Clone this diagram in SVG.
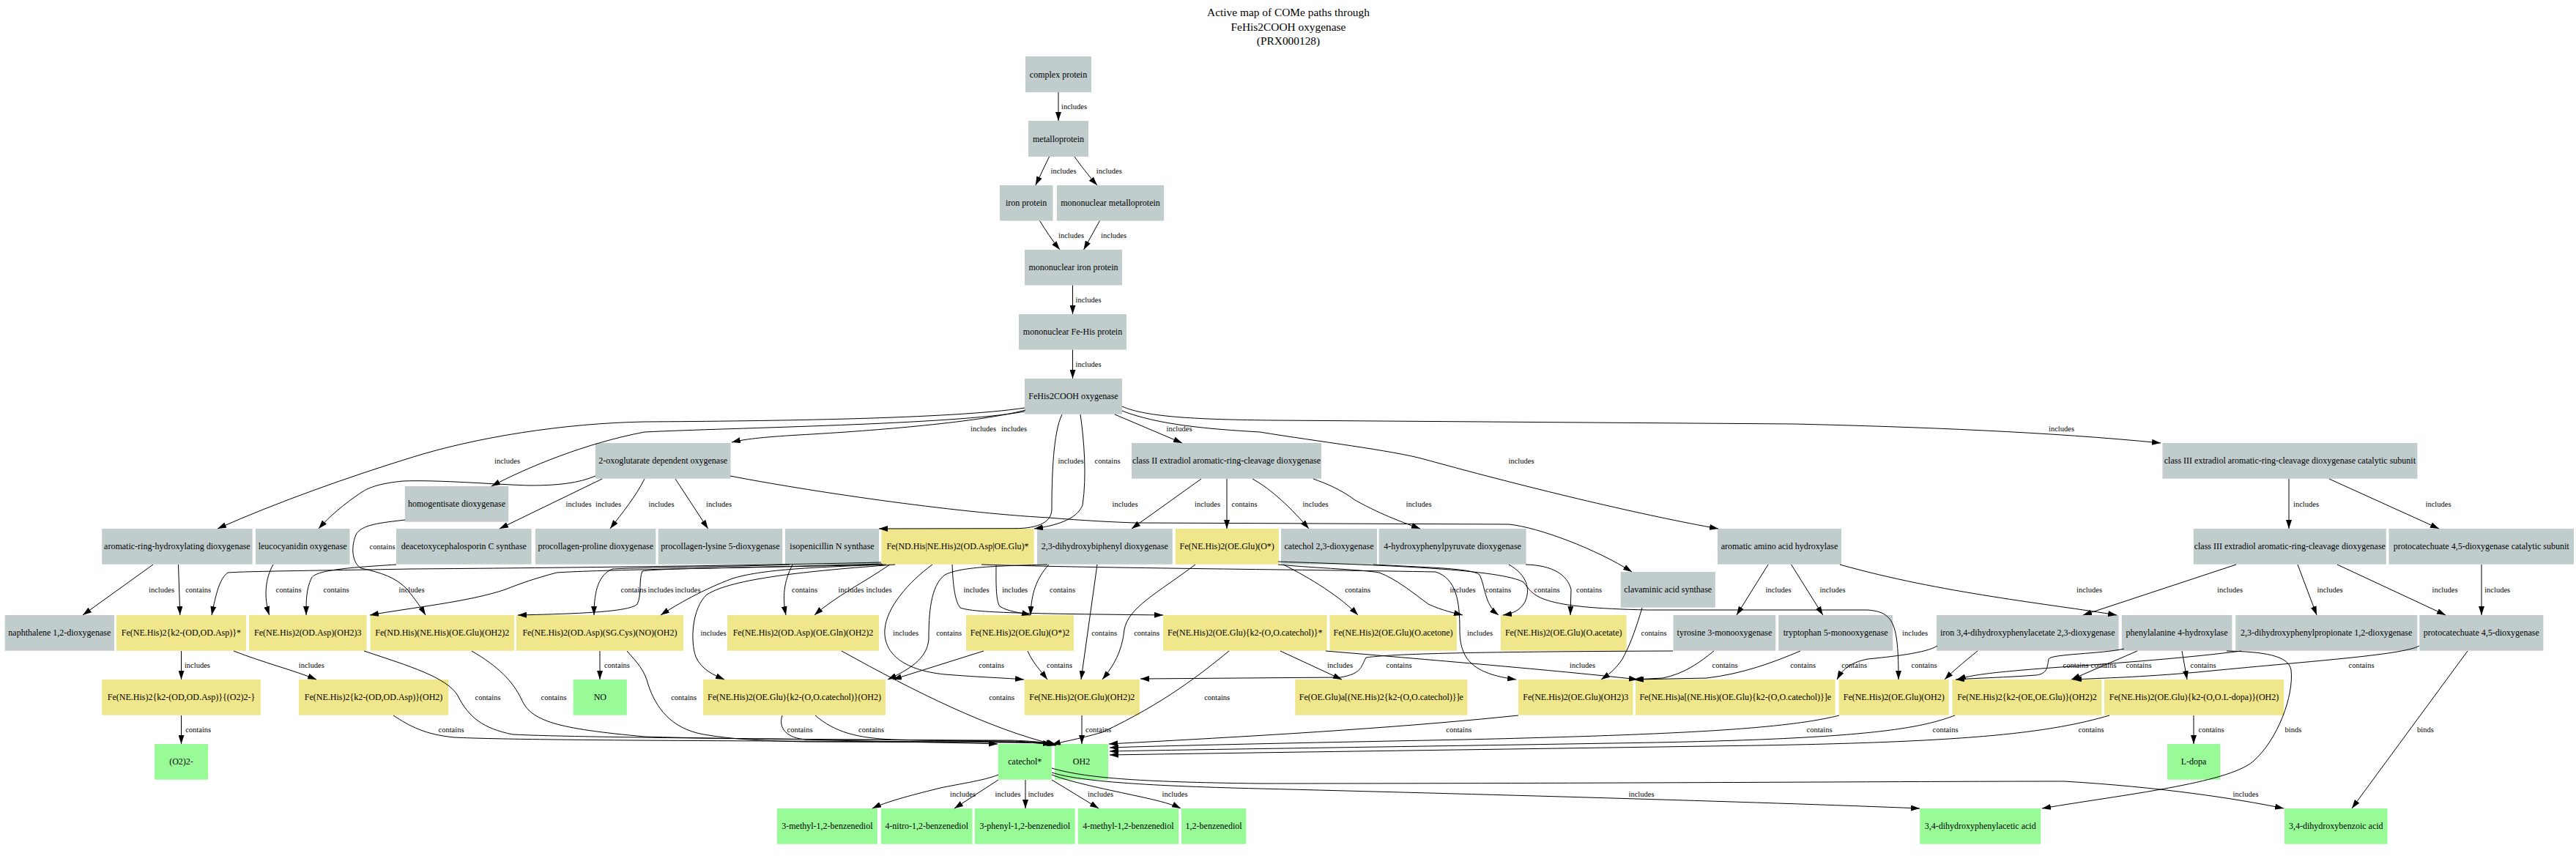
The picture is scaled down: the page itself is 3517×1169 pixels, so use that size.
<svg xmlns="http://www.w3.org/2000/svg" width="3517" height="1169" viewBox="0 0 3517 1169">
<style>
.n text{font-family:"Liberation Serif","Times New Roman",serif;font-size:12px;text-anchor:middle;fill:#000}
.g{fill:#c1cdcd}.y{fill:#f0e68c}.p{fill:#98fb98}
#edges path{fill:none;stroke:#000;stroke-width:1;marker-end:url(#a)}
#edges text{font-family:"Liberation Serif","Times New Roman",serif;font-size:10.5px;text-anchor:middle;fill:#000}
.t{font-family:"Liberation Serif","Times New Roman",serif;font-size:15.4px;text-anchor:middle;fill:#000}
</style>
<defs><marker id="a" viewBox="0 0 12 8" refX="12" refY="4" markerWidth="12" markerHeight="8" markerUnits="userSpaceOnUse" orient="auto"><path d="M0,0 L12,4 L0,8 z" fill="#000"/></marker></defs>
<rect width="3517" height="1169" fill="#fff"/>
<g id="title"><text class="t" x="1759" y="22">Active map of COMe paths through</text><text class="t" x="1759" y="42">FeHis2COOH oxygenase</text><text class="t" x="1759" y="61">(PRX000128)</text></g>
<g id="nodes">
<g id="n_complex" class="n"><rect class="g" x="1400" y="77" width="90" height="49"/><text x="1445" y="105.5">complex protein</text></g>
<g id="n_metallo" class="n"><rect class="g" x="1404" y="165" width="82" height="49"/><text x="1445" y="193.5">metalloprotein</text></g>
<g id="n_iron" class="n"><rect class="g" x="1365" y="253" width="72.5" height="48.5"/><text x="1401.2" y="281.3">iron protein</text></g>
<g id="n_mmp" class="n"><rect class="g" x="1443" y="253" width="146" height="48.5"/><text x="1516" y="281.3">mononuclear metalloprotein</text></g>
<g id="n_mip" class="n"><rect class="g" x="1399" y="341" width="133" height="48.6"/><text x="1465.5" y="369.3">mononuclear iron protein</text></g>
<g id="n_fehis" class="n"><rect class="g" x="1391" y="429" width="147" height="48.6"/><text x="1464.5" y="457.3">mononuclear Fe-His protein</text></g>
<g id="n_root" class="n"><rect class="g" x="1399" y="517" width="133" height="48.7"/><text x="1465.5" y="545.4">FeHis2COOH oxygenase</text></g>
<g id="n_2og" class="n"><rect class="g" x="813" y="605" width="184.5" height="48.7"/><text x="905.2" y="633.4">2-oxoglutarate dependent oxygenase</text></g>
<g id="n_c2" class="n"><rect class="g" x="1545" y="605" width="259" height="48.7"/><text x="1674.5" y="633.4">class II extradiol aromatic-ring-cleavage dioxygenase</text></g>
<g id="n_c3cat" class="n"><rect class="g" x="2952.4" y="605" width="348" height="48.7"/><text x="3126.4" y="633.4">class III extradiol aromatic-ring-cleavage dioxygenase catalytic subunit</text></g>
<g id="n_hgd" class="n"><rect class="g" x="552.8" y="664" width="141.4" height="48.7"/><text x="623.5" y="692.4">homogentisate dioxygenase</text></g>
<g id="n_arhd" class="n"><rect class="g" x="139.2" y="722" width="205.4" height="48.7"/><text x="241.9" y="750.4">aromatic-ring-hydroxylating dioxygenase</text></g>
<g id="n_leuco" class="n"><rect class="g" x="349" y="722" width="128.5" height="48.7"/><text x="413.2" y="750.4">leucocyanidin oxygenase</text></g>
<g id="n_dacs" class="n"><rect class="g" x="541" y="722" width="184.6" height="48.7"/><text x="633.3" y="750.4">deacetoxycephalosporin C synthase</text></g>
<g id="n_ppd" class="n"><rect class="g" x="731" y="722" width="164.4" height="48.7"/><text x="813.2" y="750.4">procollagen-proline dioxygenase</text></g>
<g id="n_pld" class="n"><rect class="g" x="898.7" y="722" width="169.5" height="48.7"/><text x="983.4" y="750.4">procollagen-lysine 5-dioxygenase</text></g>
<g id="n_ipns" class="n"><rect class="g" x="1072" y="722" width="128" height="48.7"/><text x="1136" y="750.4">isopenicillin N synthase</text></g>
<g id="n_G" class="n"><rect class="y" x="1203.4" y="722" width="208.2" height="48.7"/><text x="1307.5" y="750.4">Fe(ND.His|NE.His)2(OD.Asp|OE.Glu)*</text></g>
<g id="n_dhbd" class="n"><rect class="g" x="1416" y="722" width="184.7" height="48.7"/><text x="1508.3" y="750.4">2,3-dihydroxybiphenyl dioxygenase</text></g>
<g id="n_FeO" class="n"><rect class="y" x="1604.7" y="722" width="141.1" height="48.7"/><text x="1675.2" y="750.4">Fe(NE.His)2(OE.Glu)(O*)</text></g>
<g id="n_c23o" class="n"><rect class="g" x="1749" y="722" width="131" height="48.7"/><text x="1814.5" y="750.4">catechol 2,3-dioxygenase</text></g>
<g id="n_hppd" class="n"><rect class="g" x="1882.7" y="722" width="200.9" height="48.7"/><text x="1983.1" y="750.4">4-hydroxyphenylpyruvate dioxygenase</text></g>
<g id="n_aaah" class="n"><rect class="g" x="2345" y="722" width="169" height="48.7"/><text x="2429.5" y="750.4">aromatic amino acid hydroxylase</text></g>
<g id="n_c3" class="n"><rect class="g" x="2994.8" y="722" width="263" height="48.7"/><text x="3126.3" y="750.4">class III extradiol aromatic-ring-cleavage dioxygenase</text></g>
<g id="n_pcdcat" class="n"><rect class="g" x="3261.4" y="722" width="252.6" height="48.7"/><text x="3387.7" y="750.4">protocatechuate 4,5-dioxygenase catalytic subunit</text></g>
<g id="n_cas" class="n"><rect class="g" x="2212.7" y="781" width="129.1" height="48.7"/><text x="2277.2" y="809.4">clavaminic acid synthase</text></g>
<g id="n_ndo" class="n"><rect class="g" x="6.7" y="840" width="149.3" height="48.7"/><text x="81.3" y="868.4">naphthalene 1,2-dioxygenase</text></g>
<g id="n_k2OD" class="n"><rect class="y" x="158.8" y="840" width="177.3" height="48.7"/><text x="247.4" y="868.4">Fe(NE.His)2{k2-(OD,OD.Asp)}*</text></g>
<g id="n_aspOH3" class="n"><rect class="y" x="340" y="840" width="160.6" height="48.7"/><text x="420.3" y="868.4">Fe(NE.His)2(OD.Asp)(OH2)3</text></g>
<g id="n_hisGlu" class="n"><rect class="y" x="505.6" y="840" width="196.4" height="48.7"/><text x="603.8" y="868.4">Fe(ND.His)(NE.His)(OE.Glu)(OH2)2</text></g>
<g id="n_cysNO" class="n"><rect class="y" x="704.8" y="840" width="228.2" height="48.7"/><text x="818.9" y="868.4">Fe(NE.His)2(OD.Asp)(SG.Cys)(NO)(OH2)</text></g>
<g id="n_gln" class="n"><rect class="y" x="993" y="840" width="207" height="48.7"/><text x="1096.5" y="868.4">Fe(NE.His)2(OD.Asp)(OE.Gln)(OH2)2</text></g>
<g id="n_O2" class="n"><rect class="y" x="1319" y="840" width="147" height="48.7"/><text x="1392.5" y="868.4">Fe(NE.His)2(OE.Glu)(O*)2</text></g>
<g id="n_catS" class="n"><rect class="y" x="1588" y="840" width="223.6" height="48.7"/><text x="1699.8" y="868.4">Fe(NE.His)2(OE.Glu){k2-(O,O.catechol)}*</text></g>
<g id="n_acetone" class="n"><rect class="y" x="1815.4" y="840" width="173.4" height="48.7"/><text x="1902.1" y="868.4">Fe(NE.His)2(OE.Glu)(O.acetone)</text></g>
<g id="n_acetate" class="n"><rect class="y" x="2048.8" y="840" width="171.8" height="48.7"/><text x="2134.7" y="868.4">Fe(NE.His)2(OE.Glu)(O.acetate)</text></g>
<g id="n_th" class="n"><rect class="g" x="2284.5" y="840" width="139.8" height="48.7"/><text x="2354.4" y="868.4">tyrosine 3-monooxygenase</text></g>
<g id="n_tph" class="n"><rect class="g" x="2428.2" y="840" width="156" height="48.7"/><text x="2506.2" y="868.4">tryptophan 5-monooxygenase</text></g>
<g id="n_hpcd" class="n"><rect class="g" x="2644" y="840" width="248.6" height="48.7"/><text x="2768.3" y="868.4">iron 3,4-dihydroxyphenylacetate 2,3-dioxygenase</text></g>
<g id="n_pah" class="n"><rect class="g" x="2896.8" y="840" width="150.6" height="48.7"/><text x="2972.1" y="868.4">phenylalanine 4-hydroxylase</text></g>
<g id="n_mhpcd" class="n"><rect class="g" x="3052.2" y="840" width="248.1" height="48.7"/><text x="3176.2" y="868.4">2,3-dihydroxyphenylpropionate 1,2-dioxygenase</text></g>
<g id="n_pcd" class="n"><rect class="g" x="3303.3" y="840" width="169.1" height="48.7"/><text x="3387.8" y="868.4">protocatechuate 4,5-dioxygenase</text></g>
<g id="n_k2O2" class="n"><rect class="y" x="139.2" y="928" width="216.6" height="48.7"/><text x="247.5" y="956.4">Fe(NE.His)2{k2-(OD,OD.Asp)}{(O2)2-}</text></g>
<g id="n_k2OH" class="n"><rect class="y" x="408" y="928" width="204.2" height="48.7"/><text x="510.1" y="956.4">Fe(NE.His)2{k2-(OD,OD.Asp)}(OH2)</text></g>
<g id="n_NO" class="n"><rect class="p" x="782.8" y="928" width="73" height="48.7"/><text x="819.3" y="956.4">NO</text></g>
<g id="n_catOH" class="n"><rect class="y" x="960" y="928" width="249" height="48.7"/><text x="1084.5" y="956.4">Fe(NE.His)2(OE.Glu){k2-(O,O.catechol)}(OH2)</text></g>
<g id="n_OH2_2" class="n"><rect class="y" x="1398.7" y="928" width="157.1" height="48.7"/><text x="1477.2" y="956.4">Fe(NE.His)2(OE.Glu)(OH2)2</text></g>
<g id="n_ae" class="n"><rect class="y" x="1768.3" y="928" width="235.1" height="48.7"/><text x="1885.8" y="956.4">Fe(OE.Glu)a[(NE.His)2{k2-(O,O.catechol)}]e</text></g>
<g id="n_OH2_3" class="n"><rect class="y" x="2073" y="928" width="156.5" height="48.7"/><text x="2151.2" y="956.4">Fe(NE.His)2(OE.Glu)(OH2)3</text></g>
<g id="n_Hisa" class="n"><rect class="y" x="2233" y="928" width="272.6" height="48.7"/><text x="2369.3" y="956.4">Fe(NE.His)a[(NE.His)(OE.Glu){k2-(O,O.catechol)}]e</text></g>
<g id="n_OH2_1" class="n"><rect class="y" x="2510.7" y="928" width="150" height="48.7"/><text x="2585.7" y="956.4">Fe(NE.His)2(OE.Glu)(OH2)</text></g>
<g id="n_k2Glu" class="n"><rect class="y" x="2665.5" y="928" width="203.8" height="48.7"/><text x="2767.4" y="956.4">Fe(NE.His)2{k2-(OE,OE.Glu)}(OH2)2</text></g>
<g id="n_dopaC" class="n"><rect class="y" x="2873" y="928" width="245" height="48.7"/><text x="2995.5" y="956.4">Fe(NE.His)2(OE.Glu){k2-(O,O.L-dopa)}(OH2)</text></g>
<g id="n_O2m" class="n"><rect class="p" x="211" y="1016" width="73" height="48.7"/><text x="247.5" y="1044.4">(O2)2-</text></g>
<g id="n_cat" class="n"><rect class="p" x="1362.8" y="1016" width="73" height="48.7"/><text x="1399.3" y="1044.4">catechol*</text></g>
<g id="n_OH2" class="n"><rect class="p" x="1440" y="1016" width="73" height="48.7"/><text x="1476.5" y="1044.4">OH2</text></g>
<g id="n_dopa" class="n"><rect class="p" x="2959" y="1016" width="72.3" height="48.7"/><text x="2995.1" y="1044.4">L-dopa</text></g>
<g id="n_3m" class="n"><rect class="p" x="1061" y="1104" width="136.8" height="48.7"/><text x="1129.4" y="1132.4">3-methyl-1,2-benzenediol</text></g>
<g id="n_4n" class="n"><rect class="p" x="1202.9" y="1104" width="124.6" height="48.7"/><text x="1265.2" y="1132.4">4-nitro-1,2-benzenediol</text></g>
<g id="n_3p" class="n"><rect class="p" x="1330.8" y="1104" width="136.9" height="48.7"/><text x="1399.2" y="1132.4">3-phenyl-1,2-benzenediol</text></g>
<g id="n_4m" class="n"><rect class="p" x="1471.7" y="1104" width="137.5" height="48.7"/><text x="1540.4" y="1132.4">4-methyl-1,2-benzenediol</text></g>
<g id="n_12" class="n"><rect class="p" x="1613" y="1104" width="88.2" height="48.7"/><text x="1657.1" y="1132.4">1,2-benzenediol</text></g>
<g id="n_dopac" class="n"><rect class="p" x="2621.2" y="1104" width="165" height="48.7"/><text x="2703.7" y="1132.4">3,4-dihydroxyphenylacetic acid</text></g>
<g id="n_pca" class="n"><rect class="p" x="3119" y="1104" width="140.6" height="48.7"/><text x="3189.3" y="1132.4">3,4-dihydroxybenzoic acid</text></g>
</g>
<g id="edges">
<path d="M1445,126 L1445,165"/><text x="1466.5" y="149">includes</text>
<path d="M1432.5,214 L1413.8,253"/><text x="1452" y="236.5">includes</text>
<path d="M1467,214 C1475,225 1486,240 1498,253"/><text x="1514.3" y="236.5">includes</text>
<path d="M1419.5,301.5 C1428,315 1437,329 1447,341"/><text x="1462.5" y="324.5">includes</text>
<path d="M1501.4,301.5 L1479.6,341"/><text x="1520.6" y="324.5">includes</text>
<path d="M1464.5,389.6 L1464.5,429"/><text x="1486" y="413">includes</text>
<path d="M1464.5,477.6 L1464.5,517"/><text x="1486" y="501">includes</text>
<path d="M1400,560 C1340,576 1200,588 1090,594 C1040,597 1015,600 999,604"/><text x="1342.6" y="588.8">includes</text>
<path d="M1399,557 C1300,572 1050,575 880,576 C770,578 650,597 561,625 C480,650 380,685 297,722"/><text x="1384.6" y="588.8">includes</text>
<path d="M1399,562 C1300,580 1000,584 880,590 C800,605 720,638 671,664"/><text x="692.5" y="632.8">includes</text>
<path d="M1450,566 C1438,590 1436,650 1436,695 C1436,712 1420,721.7 1385,721.7 L1200,722"/><text x="1462" y="632.8">includes</text>
<path d="M1475,566 C1480,600 1484,650 1478,690 C1470,710 1440,718 1412,722"/><text x="1512" y="632.8">contains</text>
<path d="M1522,566 L1614,605"/><text x="1610" y="588.8">includes</text>
<path d="M1532,561 C1580,580 1650,586 1720,590 C1800,603 1900,615 1944,627 C2100,670 2250,705 2346,722"/><text x="2077" y="632.8">includes</text>
<path d="M1532,555 C1565,570 1640,573 1740,574 L2450,579 C2620,583 2800,590 2950,605"/><text x="2814.5" y="588.8">includes</text>
<path d="M813,650 C790,660 760,663 724,663 C680,662 600,655 550,657 C520,660 505,665 494,672 C470,688 450,705 435,722"/><text x="790" y="691.8">includes</text>
<path d="M822,654 L682,722"/><text x="830.5" y="691.8">includes</text>
<path d="M880,654 C868,678 850,700 833,722"/><text x="903" y="691.8">includes</text>
<path d="M922,654 L966.6,722"/><text x="981.5" y="691.8">includes</text>
<path d="M997,650 C1100,670 1300,700 1432,707 C1480,711 1520,713 1550,714 L2060,716 C2100,720 2180,750 2228,781"/><text x="1536" y="691.8">includes</text>
<path d="M1640,654 L1545,722"/><text x="1648.5" y="691.8">includes</text>
<path d="M1675,654 L1675,722"/><text x="1699" y="691.8">contains</text>
<path d="M1710,654 C1730,665 1755,685 1787,722"/><text x="1796" y="691.8">includes</text>
<path d="M1793,654 C1810,660 1830,668 1850,683 C1890,705 1920,715 1939,722"/><text x="1937" y="691.8">includes</text>
<path d="M3125,654 L3125,722"/><text x="3148.5" y="691.8">includes</text>
<path d="M3180,654 L3330,722"/><text x="3329" y="691.8">includes</text>
<path d="M553,710 C520,714 494,716 486,730 C478,750 482,770 493,776 C520,782 540,788 556,805 C568,820 575,830 581,840"/><text x="522" y="750.2">contains</text>
<path d="M209,771 L113,840"/><text x="220.5" y="809.2">includes</text>
<path d="M243.5,771 L245.8,840"/><text x="270.7" y="809.2">contains</text>
<path d="M373,771 C362,790 360,815 367.6,840"/><text x="394" y="809.2">contains</text>
<path d="M541,771 C480,775 430,778 425,790 C418,805 418,820 418,840"/><text x="459" y="809.2">contains</text>
<path d="M1204,770 C1000,776 820,778 760,782 C730,790 710,797 690,805 C640,822 560,830 505,840"/><text x="562" y="809.2">includes</text>
<path d="M1203,768 C1000,773 700,776 561,777 C450,779 340,780 311,782 C300,790 295,810 289,840"/><text x="1200" y="809.2">includes</text>
<path d="M1206,771 C1000,776 900,776 877,780 C872,790 876,815 870,825 C860,835 800,838 707,840"/><text x="902" y="809.2">includes</text>
<path d="M1210,771 C1100,775 1040,778 1000,790 C960,805 925,825 902,840"/><text x="939" y="809.2">includes</text>
<path d="M1215,771 C1180,795 1140,815 1112,840"/><text x="1162" y="809.2">includes</text>
<path d="M1078,771 C1000,774 870,775 836,777 C818,785 811,805 811,840"/><text x="865" y="809.2">contains</text>
<path d="M1082,771 C1070,795 1068,815 1073,840"/><text x="1098.5" y="809.2">contains</text>
<path d="M1300,771 C1301,795 1303,820 1311,830 C1330,837 1400,838 1588,840"/><text x="1333" y="809.2">includes</text>
<path d="M1360,771 C1360,790 1359,820 1365,828 C1375,835 1395,837 1407,840"/><text x="1385.7" y="809.2">includes</text>
<path d="M1432,771 C1415,790 1408,810 1407,840"/><text x="1450.5" y="809.2">contains</text>
<path d="M1752,771 C1790,790 1830,815 1854,840"/><text x="1853.7" y="809.2">contains</text>
<path d="M1745,771 C1800,776 1860,778 1883,782 C1905,790 1930,810 1950,825 C1970,834 1985,837 1997,840"/><text x="1997" y="809.2">includes</text>
<path d="M1875,771 C1950,775 2010,776 2020,785 C2028,800 2026,825 2046,840"/><text x="2045.5" y="809.2">contains</text>
<path d="M2060,771 C2085,785 2090,805 2082,822 C2075,834 2065,838 2052,840"/><text x="2112" y="809.2">contains</text>
<path d="M2083,771 C2120,772 2140,785 2145,805 L2144,840"/><text x="2169.5" y="809.2">contains</text>
<path d="M2414,771 L2371,840"/><text x="2428" y="809.2">includes</text>
<path d="M2445.6,771 L2488.8,840"/><text x="2502" y="809.2">includes</text>
<path d="M2512,771 C2650,810 2800,825 2890,840"/><text x="2852.5" y="809.2">includes</text>
<path d="M3053,771 L2844,840"/><text x="3044.5" y="809.2">includes</text>
<path d="M3137,771 L3163,840"/><text x="3181" y="809.2">includes</text>
<path d="M3191,771 L3339,840"/><text x="3338" y="809.2">includes</text>
<path d="M3388,771 L3388,840"/><text x="3409.7" y="809.2">includes</text>
<path d="M1222,771 C1100,780 1000,790 965,812 C945,830 942,875 950,897 C958,915 975,922 989,928"/><text x="974" y="867.8">includes</text>
<path d="M1273,771 C1240,795 1210,830 1208,860 C1206,890 1230,915 1290,921 C1340,925 1375,926 1398,928"/><text x="1236.5" y="867.8">includes</text>
<path d="M1430,771 C1350,773 1310,775 1290,785 C1270,800 1268,840 1268,873 C1266,900 1240,915 1212,928"/><text x="1295.7" y="867.8">contains</text>
<path d="M1498,771 L1476,928"/><text x="1507.7" y="867.8">contains</text>
<path d="M1632,771 C1580,810 1540,830 1535,860 C1532,890 1520,910 1505,928"/><text x="1565.7" y="867.8">contains</text>
<path d="M1340,771 C1500,776 1800,778 1960,781 C1988,790 1993,820 1993,860 C1993,900 2010,920 2070,928"/><text x="2020.5" y="867.8">includes</text>
<path d="M2242,830 C2233,860 2226,880 2215,900 C2205,915 2195,922 2186,928"/><text x="2258" y="867.8">contains</text>
<path d="M1745,767 C1900,772 2050,778 2080,795 C2095,815 2100,830 2250,833 L2550,833 C2585,836 2592,850 2592,928"/><text x="2614.6" y="867.8">includes</text>
<path d="M247.5,889 L247.5,928"/><text x="269.4" y="912.2">includes</text>
<path d="M319,889 C360,905 400,915 432,928"/><text x="425.3" y="912.2">includes</text>
<path d="M819,889 L819,928"/><text x="842.4" y="912.2">contains</text>
<path d="M1343,889 L1219,928"/><text x="1353.7" y="912.2">contains</text>
<path d="M1403,889 C1410,905 1420,915 1430,928"/><text x="1446.5" y="912.2">contains</text>
<path d="M1748,889 L1832,928"/><text x="1829.5" y="912.2">includes</text>
<path d="M2284,889 C2000,890 1900,893 1865,898 C1858,910 1860,920 1830,925 L1557,927"/><text x="1910" y="912.2">contains</text>
<path d="M1810,889 C2000,905 2150,918 2236,928"/><text x="2160.5" y="912.2">includes</text>
<path d="M2340,889 C2320,905 2300,920 2270,926 L2230,928"/><text x="2355" y="912.2">contains</text>
<path d="M2458,889 C2420,905 2380,920 2330,926 L2232,928"/><text x="2461.7" y="912.2">contains</text>
<path d="M2645,882 C2630,892 2580,897 2550,900 C2525,905 2515,915 2508,928"/><text x="2531.7" y="912.2">contains</text>
<path d="M2700,889 C2680,905 2665,918 2655,928"/><text x="2627" y="912.2">contains</text>
<path d="M2900,886 C2870,893 2800,893 2797,900 C2795,912 2795,920 2780,922 C2740,925 2700,926 2670,928"/><text x="2834" y="912.2">contains</text>
<path d="M2918,889 L2828,928"/><text x="2872" y="912.2">contains</text>
<path d="M3060,889 C2990,898 2900,905 2800,912 C2720,918 2690,922 2672,928"/><text x="2920" y="912.2">contains</text>
<path d="M2979,889 L2986,928"/><text x="3008" y="912.2">contains</text>
<path d="M3303,882 C3280,895 3150,903 3000,918 C2920,925 2870,926 2830,928"/><text x="3224" y="912.2">contains</text>
<path d="M497,889 C560,910 610,925 625,950 C640,980 660,995 700,1003 C800,1008 1200,1010 1380,1012 C1410,1013 1430,1014 1442,1017"/><text x="666" y="956.2">contains</text>
<path d="M644,889 C680,910 700,930 712,955 C725,985 760,995 880,1006 C1000,1010 1300,1011 1380,1011 C1410,1012 1430,1014 1442,1017"/><text x="756" y="956.2">contains</text>
<path d="M856,889 C870,905 880,915 885,935 C895,965 915,995 961,1003 C1000,1010 1050,1012 1100,1013 L1380,1014 C1410,1014 1430,1015 1442,1018"/><text x="933.7" y="956.2">contains</text>
<path d="M1149,889 C1250,945 1350,995 1440,1017"/><text x="1367.7" y="956.2">contains</text>
<path d="M1678,889 C1640,920 1590,960 1505,1000 C1470,1010 1450,1013 1436,1017"/><text x="1661.7" y="956.2">contains</text>
<path d="M247.5,977 L247.5,1016"/><text x="270.7" y="1000.2">contains</text>
<path d="M537,977 C560,992 580,1003 620,1007 C700,1011 1000,1012 1380,1013 C1410,1014 1430,1015 1441,1018"/><text x="616" y="1000.2">contains</text>
<path d="M1068,977 C1062,995 1075,1008 1100,1010 C1200,1013 1300,1014 1362,1016"/><text x="1092" y="1000.2">contains</text>
<path d="M1113,977 C1140,1000 1170,1008 1220,1010 C1300,1012 1400,1013 1436,1016"/><text x="1189.6" y="1000.2">contains</text>
<path d="M1477,977 L1477,1016"/><text x="1499.5" y="1000.2">contains</text>
<path d="M2073,977 C1900,995 1700,1006 1514,1016"/><text x="1991.8" y="1000.2">contains</text>
<path d="M2511,977 C2440,995 2300,1003 2000,1010 C1800,1014 1600,1018 1515,1021"/><text x="2484" y="1000.2">contains</text>
<path d="M2669,977 C2620,995 2550,1010 2200,1015 C1900,1020 1600,1024 1515,1026"/><text x="2656" y="1000.2">contains</text>
<path d="M2880,977 C2800,1000 2700,1013 2400,1018 C2000,1024 1700,1028 1515,1031"/><text x="2855" y="1000.2">contains</text>
<path d="M2995,977 L2995,1016"/><text x="3019" y="1000.2">contains</text>
<path d="M3040,889 C3090,890 3125,895 3128,915 C3132,950 3110,1010 3076,1040 C3040,1070 2900,1085 2788,1104"/><text x="3131" y="1000.2">binds</text>
<path d="M3369,889 L3211,1104"/><text x="3311.5" y="1000.2">binds</text>
<path d="M1363,1058 C1345,1066 1300,1072 1280,1077 C1240,1087 1210,1095 1191,1104"/><text x="1314.5" y="1087.8">includes</text>
<path d="M1363,1065 L1303,1104"/><text x="1376" y="1087.8">includes</text>
<path d="M1400,1065 L1400,1104"/><text x="1421" y="1087.8">includes</text>
<path d="M1436,1065 L1500,1104"/><text x="1502.5" y="1087.8">includes</text>
<path d="M1436,1058 C1460,1068 1520,1080 1552,1087 C1580,1093 1600,1098 1612,1104"/><text x="1604" y="1087.8">includes</text>
<path d="M1436,1055 C1470,1066 1550,1073 1720,1077 C2000,1084 2400,1095 2621,1104"/><text x="2241" y="1087.8">includes</text>
<path d="M1436,1049 C1480,1062 1550,1068 1720,1070 C2200,1070 2600,1067 2819,1067 C2950,1075 3050,1090 3118,1104"/><text x="3066" y="1087.8">includes</text>
</g>
</svg>
